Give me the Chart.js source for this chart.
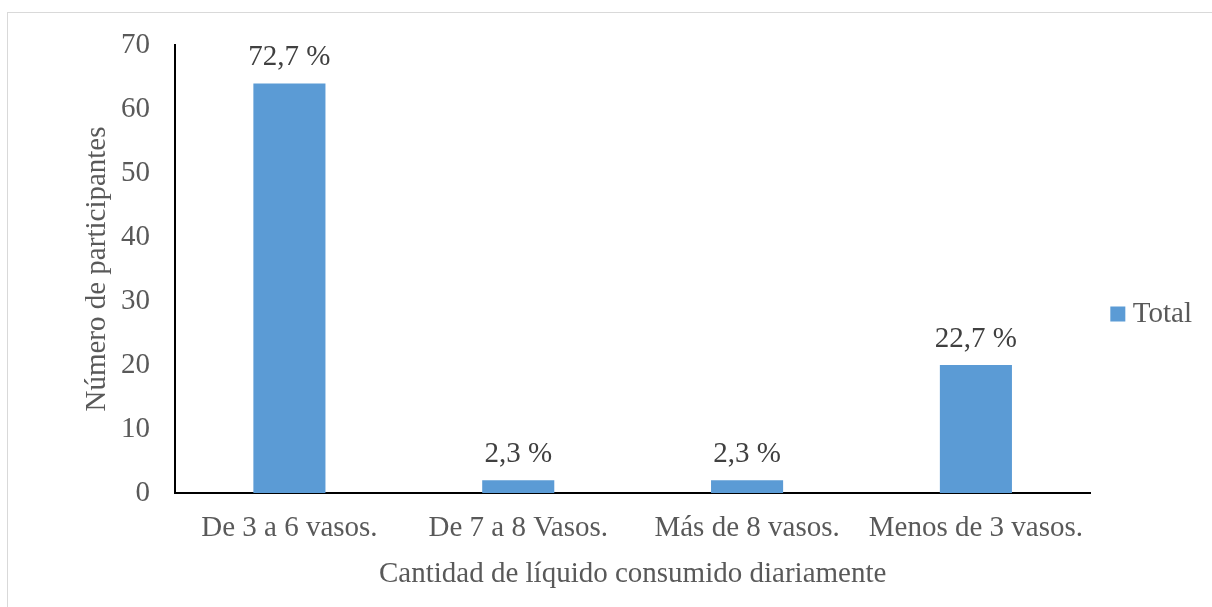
<!DOCTYPE html>
<html>
<head>
<meta charset="utf-8">
<script src="https://cdn.jsdelivr.net/npm/chart.js@4/dist/chart.umd.min.js"></script>
<style>
  body { margin: 0; background: #fff; overflow: hidden; }
  #marco { position: absolute; left: 7px; top: 12px; width: 1300px; height: 700px; border: 1px solid #d9d9d9; }
  #grafica { position: absolute; left: 0; top: 0; }
</style>
</head>
<body>
<div id="marco"></div>
<canvas id="grafica" width="1212" height="607"></canvas>
<script>
// datos del gráfico
const categorias = ['De 3 a 6 vasos.', 'De 7 a 8 Vasos.', 'Más de 8 vasos.', 'Menos de 3 vasos.'];
const participantes = [64, 2, 2, 20];
const ticksY = [0, 10, 20, 30, 40, 50, 60, 70];

const total = participantes.reduce((a, b) => a + b, 0);
const fuente = 'Liberation Serif, Times New Roman, serif';
const azul = '#5B9BD5';

// etiquetas de porcentaje encima de cada barra
const etiquetasPlugin = {
    id: 'etiquetas',
    afterDatasetsDraw(chart) {
        const ctx = chart.ctx;
        const meta = chart.getDatasetMeta(0);
        ctx.save();
        ctx.font = '29px ' + fuente;
        ctx.fillStyle = '#404040';
        ctx.textAlign = 'center';
        ctx.textBaseline = 'alphabetic';
        meta.data.forEach((bar, i) => {
            const pct = (participantes[i] / total * 100).toFixed(1).replace('.', ',') + ' %';
            ctx.fillText(pct, bar.x, bar.y - 18);
        });
        ctx.restore();
    }
};

const ctx = document.getElementById('grafica').getContext('2d');

new Chart(ctx, {
    type: 'bar',
    data: {
        labels: categorias,
        datasets: [{
            label: 'Total',
            data: participantes,
            backgroundColor: azul,
            borderWidth: 0,
            categoryPercentage: 1,
            barPercentage: 0.315
        }]
    },
    options: {
        responsive: false,
        animation: false,
        layout: { padding: { left: 70, top: 45, right: 10, bottom: 24 } },
        plugins: {
            tooltip: { enabled: false },
            legend: {
                position: 'right',
                labels: {
                    boxWidth: 1,
                    boxHeight: 1,
                    padding: 27,
                    color: '#595959',
                    font: { family: fuente, size: 29 },
                    // cuadro de 15px hecho con el borde para acercar el texto
                    generateLabels(chart) {
                        const items = Chart.defaults.plugins.legend.labels.generateLabels(chart);
                        items.forEach(it => { it.lineWidth = 14; it.strokeStyle = azul; it.fillStyle = azul; });
                        return items;
                    }
                }
            }
        },
        scales: {
            x: {
                grid: { display: false, drawTicks: false },
                border: { display: true, color: '#000', width: 2 },
                ticks: { color: '#595959', padding: 18, font: { family: fuente, size: 29 } },
                title: {
                    display: true,
                    text: 'Cantidad de líquido consumido diariamente',
                    color: '#595959',
                    font: { family: fuente, size: 29, lineHeight: 0.5 },
                    padding: { top: 0, bottom: 1 }
                },
                afterFit(scale) { scale.height = 90; }
            },
            y: {
                min: 0,
                max: 70,
                grid: { display: false, drawTicks: false },
                border: { display: true, color: '#000', width: 2 },
                afterBuildTicks(scale) { scale.ticks = ticksY.map(v => ({ value: v })); },
                ticks: { color: '#595959', padding: 25, font: { family: fuente, size: 29 } },
                title: {
                    display: true,
                    text: 'Número de participantes',
                    color: '#595959',
                    font: { family: fuente, size: 29 },
                    padding: { top: 10, bottom: 0 }
                },
                afterFit(scale) { scale.width = 105; }
            }
        }
    },
    plugins: [etiquetasPlugin]
});
</script>
</body>
</html>
